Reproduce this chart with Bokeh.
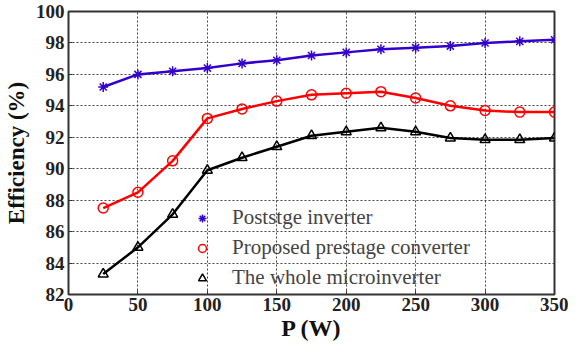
from bokeh.plotting import figure
from bokeh.models import Legend, LegendItem, FixedTicker, Range1d
from bokeh.embed import file_html
from bokeh.resources import INLINE

power = [25, 50, 75, 100, 125, 150, 175, 200, 225, 250, 275, 300, 325, 350]
poststage = [95.2, 96.0, 96.2, 96.4, 96.7, 96.9, 97.2, 97.4, 97.6, 97.7, 97.8, 98.0, 98.1, 98.2]
prestage = [87.5, 88.5, 90.5, 93.2, 93.8, 94.3, 94.7, 94.8, 94.9, 94.5, 94.0, 93.7, 93.6, 93.6]
whole = [83.3, 85.0, 87.1, 89.9, 90.7, 91.4, 92.1, 92.35, 92.6, 92.35, 91.95, 91.85, 91.85, 91.95]
x_ticks = [0, 50, 100, 150, 200, 250, 300, 350]
y_ticks = [82, 84, 86, 88, 90, 92, 94, 96, 98, 100]
labels = ["Poststge inverter", "Proposed prestage converter", "The whole microinverter"]

BLUE = "#3300cc"
RED = "#ff0000"
BLACK = "#000000"

p = figure(width=568, height=344, output_backend="svg", toolbar_location=None,
           x_range=Range1d(0, 350), y_range=Range1d(82, 100),
           min_border_left=67, min_border_right=14, min_border_top=11, min_border_bottom=50)
p.title.visible = False

serif = "Liberation Serif"

for ax in (p.xaxis[0], p.yaxis[0]):
    ax.major_label_text_font = serif
    ax.major_label_text_font_style = "bold"
    ax.major_label_text_font_size = "19px"
    ax.major_label_text_color = "#222222"
    ax.axis_label_text_font = serif
    ax.axis_label_text_font_style = "bold"
    ax.axis_label_text_color = "#111111"
    ax.axis_line_color = None
    ax.major_tick_out = 0
    ax.major_tick_in = 4
    ax.major_tick_line_color = "#333333"
    ax.minor_tick_line_color = None

p.xaxis.ticker = FixedTicker(ticks=x_ticks)
p.yaxis.ticker = FixedTicker(ticks=y_ticks)
p.xaxis.axis_label = "P (W)"
p.yaxis.axis_label = "Efficiency (%)"
p.xaxis.axis_label_text_font_size = "24px"
p.yaxis.axis_label_text_font_size = "23px"
p.xaxis.major_label_standoff = 3
p.yaxis.major_label_standoff = 4
p.xaxis.axis_label_standoff = 1
p.yaxis.axis_label_standoff = 4

p.grid.grid_line_color = "#444444"
p.grid.grid_line_dash = "2 2"
p.grid.grid_line_width = 1
p.outline_line_color = "#333333"
p.outline_line_width = 2

p.line(power, poststage, line_color=BLUE, line_width=2.5)
r1 = p.scatter(power, poststage, marker="asterisk", size=10, line_color=BLUE, line_width=1.5)
p.line(power, prestage, line_color=RED, line_width=2.5)
r2 = p.scatter(power, prestage, marker="circle", size=10, line_color=RED, fill_color=None, line_width=1.5)
p.line(power, whole, line_color=BLACK, line_width=2.5)
r3 = p.scatter(power, whole, marker="triangle", size=10, line_color=BLACK, fill_color=None, line_width=1.5)

legend = Legend(items=[LegendItem(label=labels[0], renderers=[r1]),
                       LegendItem(label=labels[1], renderers=[r2]),
                       LegendItem(label=labels[2], renderers=[r3])],
                location=(124, 4), margin=0, padding=0,
                glyph_width=20, glyph_height=20, label_height=20, spacing=5,
                label_standoff=20, label_text_font=serif, label_text_font_size="21px",
                background_fill_alpha=0, border_line_alpha=0)
p.add_layout(legend)

open("out.html", "w").write(file_html(p, INLINE))
